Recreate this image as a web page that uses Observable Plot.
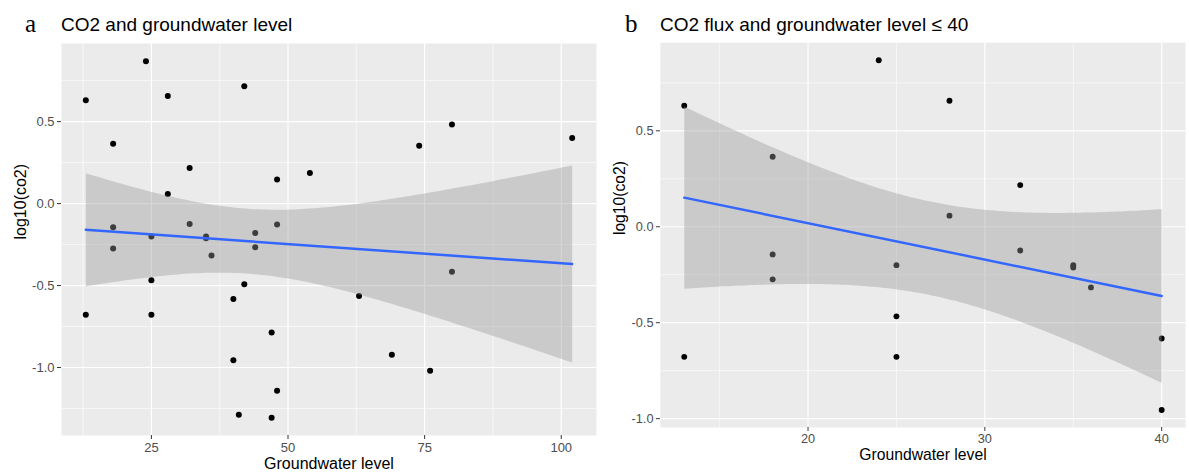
<!DOCTYPE html>
<html>
<head>
<meta charset="utf-8">
<script src="https://cdn.jsdelivr.net/npm/d3@7"></script>
<script src="https://cdn.jsdelivr.net/npm/@observablehq/plot@0.6"></script>
<style>
  html, body { margin: 0; padding: 0; background: white; overflow: hidden; }
  #wrap { position: relative; width: 1189px; height: 475px; overflow: hidden; font-family: "Liberation Sans", Arial, sans-serif; }
  .panel { position: absolute; top: 0; }
  .tag { position: absolute; font-family: "Liberation Serif", "Times New Roman", serif; font-size: 25px; line-height: 1; color: #000; }
  .title { position: absolute; font-family: "Liberation Sans", Arial, sans-serif; font-size: 19px; line-height: 1; color: #000; }
</style>
</head>
<body>
<div id="wrap">
  <div class="panel" id="pa" style="left:0px"></div>
  <div class="panel" id="pb" style="left:600px"></div>
  <div class="tag" style="left:25px; top:11px">a</div>
  <div class="title" style="left:61px; top:15px">CO2 and groundwater level</div>
  <div class="tag" style="left:625px; top:11px">b</div>
  <div class="title" style="left:660px; top:15px">CO2 flux and groundwater level ≤ 40</div>
</div>
<script>
// Groundwater level (x) and log10(co2) (y)
const groundwater = [13, 24, 42, 28, 18, 80, 74, 102, 32, 48, 54, 28, 18, 32, 44, 48, 25, 35, 35, 18, 44, 36, 80, 25, 42, 40, 63, 13, 25, 47, 40, 69, 76, 48, 41, 47];
const logco2 = [0.631, 0.868, 0.716, 0.657, 0.365, 0.482, 0.353, 0.400, 0.217, 0.147, 0.186, 0.058, -0.144, -0.124, -0.180, -0.127, -0.200, -0.200, -0.212, -0.274, -0.267, -0.316, -0.416, -0.467, -0.492, -0.582, -0.563, -0.678, -0.678, -0.786, -0.955, -0.922, -1.020, -1.141, -1.288, -1.306];

const xTicksA = [25, 50, 75, 100];
const xMinorA = [12.5, 37.5, 62.5, 87.5];
const xTicksB = [20, 30, 40];
const xMinorB = [15, 25, 35];
const yTicks = [-1, -0.5, 0, 0.5];
const yMinorA = [-1.25, -0.75, -0.25, 0.25, 0.75];
const yMinorB = [-0.75, -0.25, 0.25, 0.75];

const xLabel = "Groundwater level";
const yLabel = "log10(co2)";

const rows = groundwater.map((g, i) => ({gw: g, co2: logco2[i]}));
const rowsB = rows.filter(d => d.gw <= 40);

function expand(ext) {
  const r = ext[1] - ext[0];
  return [ext[0] - 0.05 * r, ext[1] + 0.05 * r];
}

function panel(data, xTicks, xMinor, yMinor) {
  const xd = expand(d3.extent(data, d => d.gw));
  const yd = expand(d3.extent(data, d => d.co2));
  return Plot.plot({
    width: 600,
    height: 475,
    marginTop: 43,
    marginBottom: 40,
    marginLeft: 61,
    marginRight: 4,
    style: {fontFamily: "Liberation Sans, Arial, sans-serif", background: "transparent", overflow: "visible"},
    x: {domain: xd, label: null},
    y: {domain: yd, label: null},
    marks: [
      Plot.frame({fill: "#EBEBEB", stroke: null}),
      Plot.gridX(xMinor, {stroke: "white", strokeOpacity: 1, strokeWidth: 0.6}),
      Plot.gridY(yMinor, {stroke: "white", strokeOpacity: 1, strokeWidth: 0.6}),
      Plot.gridX(xTicks, {stroke: "white", strokeOpacity: 1, strokeWidth: 1.2}),
      Plot.gridY(yTicks, {stroke: "white", strokeOpacity: 1, strokeWidth: 1.2}),
      Plot.axisX(xTicks, {tickSize: 4, tickPadding: 3, stroke: "#333", fill: "#4d4d4d", fontSize: 13, label: null, tickFormat: d => String(d)}),
      Plot.axisY(yTicks, {tickSize: 4, tickPadding: 3, stroke: "#333", fill: "#4d4d4d", fontSize: 13, label: null, tickFormat: d => d.toFixed(1)}),
      Plot.dot(data, {x: "gw", y: "co2", r: 3, fill: "black", stroke: null}),
      Plot.linearRegressionY(data, {x: "gw", y: "co2", ci: 0.95, stroke: "#3366FF", strokeWidth: 2.5, fill: "#999999", fillOpacity: 0.4}),
      Plot.text([xLabel], {frameAnchor: "bottom", lineAnchor: "top", dy: 22, fontSize: 16, fill: "black"}),
      Plot.text([yLabel], {frameAnchor: "left", lineAnchor: "middle", dx: -41, rotate: -90, fontSize: 16, fill: "black"})
    ]
  });
}

document.getElementById("pa").appendChild(panel(rows, xTicksA, xMinorA, yMinorA));
document.getElementById("pb").appendChild(panel(rowsB, xTicksB, xMinorB, yMinorB));
</script>
</body>
</html>
